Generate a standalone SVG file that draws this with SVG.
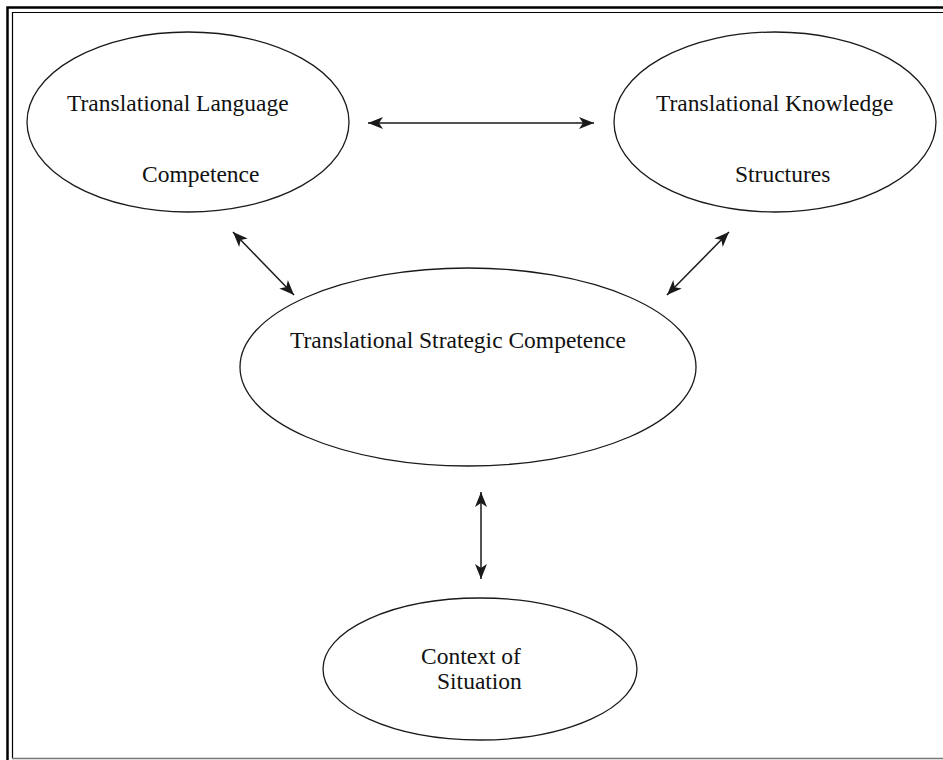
<svg xmlns="http://www.w3.org/2000/svg" width="943" height="760" viewBox="0 0 943 760">
<defs>
<style>
.node{fill:#fff;stroke:#1a1a1a;stroke-width:1.3}
.lbl{font-family:"Liberation Serif","Times New Roman",serif;font-size:23.5px;fill:#111}
.conn{stroke:#1a1a1a;stroke-width:1.5;fill:none;marker-start:url(#ah);marker-end:url(#ah)}
</style>
<marker id="ah" markerUnits="userSpaceOnUse" markerWidth="16" markerHeight="14" viewBox="0 0 16 14" refX="15" refY="7" orient="auto-start-reverse">
<path d="M0,1 L15,7 L0,13 L4,7 Z" fill="#1a1a1a"/>
</marker>
</defs>
<rect width="943" height="760" fill="#fff"/>
<g id="frame" fill="none">
<path d="M7.5,760 V7.5 H943" stroke="#000" stroke-width="2.5"/>
<path d="M12.5,758 V12.5 H943" stroke="#000" stroke-width="1.2"/>
<path d="M12,758.5 H943" stroke="#777" stroke-width="1.5"/>
</g>
<g id="n-lang">
<ellipse class="node" cx="188" cy="122" rx="161" ry="90"/>
<text class="lbl" x="67" y="111">Translational Language</text>
<text class="lbl" x="142" y="182">Competence</text>
</g>
<g id="n-know">
<ellipse class="node" cx="775" cy="122" rx="161" ry="90"/>
<text class="lbl" x="656" y="111">Translational Knowledge</text>
<text class="lbl" x="735" y="182">Structures</text>
</g>
<g id="n-strat">
<ellipse class="node" cx="468" cy="367" rx="228" ry="99"/>
<text class="lbl" x="290" y="348">Translational Strategic Competence</text>
</g>
<g id="n-ctx">
<ellipse class="node" cx="480" cy="669" rx="157" ry="71"/>
<text class="lbl" x="421" y="664">Context of</text>
<text class="lbl" x="437" y="689">Situation</text>
</g>
<g id="connectors">
<line class="conn" x1="368" y1="123" x2="594" y2="123"/>
<line class="conn" x1="233" y1="232" x2="294" y2="295"/>
<line class="conn" x1="729" y1="232" x2="667" y2="295"/>
<line class="conn" x1="481" y1="492" x2="481" y2="579" stroke="#444"/>
</g>
</svg>
